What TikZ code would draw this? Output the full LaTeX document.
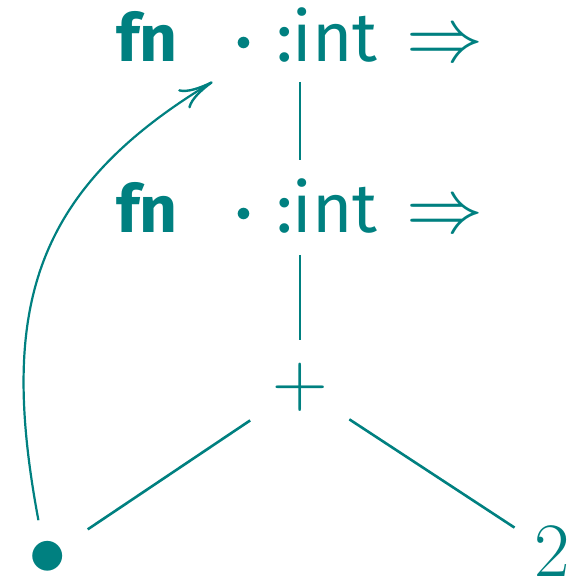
\RequirePackage{fix-cm}
\documentclass[tikz,border=0pt]{standalone}
\usepackage{fontspec}
\newfontfamily\fira{Fira Sans}
\usetikzlibrary{arrows.meta}
\begin{document}
\begin{tikzpicture}[x=0.5pt,y=0.5pt,
  every node/.style={inner sep=0pt, outer sep=0pt, text=teal},
  txt/.style={font=\fontsize{33}{36}\selectfont\fira},
  inttxt/.style={font=\fontsize{34.5}{36}\selectfont\fira},
  mth/.style={font=\fontsize{38.5}{40}\selectfont},
  dotm/.style={font=\fontsize{15}{16}\selectfont, circle, minimum size=50pt},
  edge/.style={draw=teal, line width=1.3pt},
  link/.style={draw=teal, line width=1.1pt, -{Computer Modern Rightarrow[length=17pt,width=11pt,line width=1.2pt]}}]
\useasboundingbox (0,0) rectangle (581,581);
% row 1
\node[txt, anchor=base west] (fn1) at (116,519) {\bfseries fn};
\node[dotm] (d1) at (244,538) {$\vphantom{+}\bullet$};
\node[inttxt, anchor=base west] (int1) at (276,519) {:int};
\node[mth, anchor=base west] (arr1) at (406,519) {$\Rightarrow$};
\coordinate (r1) at (300,538);
% row 2
\node[txt, anchor=base west] (fn2) at (116,348.5) {\bfseries fn};
\node[dotm] (d2) at (244,367) {$\vphantom{+}\bullet$};
\node[inttxt, anchor=base west] (int2) at (276,348.5) {:int};
\node[mth, anchor=base west] (arr2) at (406,348.5) {$\Rightarrow$};
\coordinate (r2) at (300,367);
% lower nodes
\node[mth] (plus) at (300,194) {$+$};
\node[mth, circle, minimum size=37pt] (bul) at (48,25) {$\vphantom{+}\bullet$};
\node[mth, anchor=base] (two) at (552,4) {$2$};
% edges
\draw[edge, shorten <=19.5pt, shorten >=27pt] (r1) -- (r2);
\draw[edge, shorten <=20.5pt, shorten >=23.5pt] (r2) -- (plus.center);
\draw[edge, shorten <=30pt, shorten >=23.9pt] (plus.center) -- (bul.center);
\draw[edge, shorten <=29.5pt, shorten >=22.4pt] (plus.center) -- (two.center);
\draw[link] (bul.105.5) .. controls (-0.7,269.8) and (31,389.6) .. (d1.231.5);
\end{tikzpicture}
\end{document}
